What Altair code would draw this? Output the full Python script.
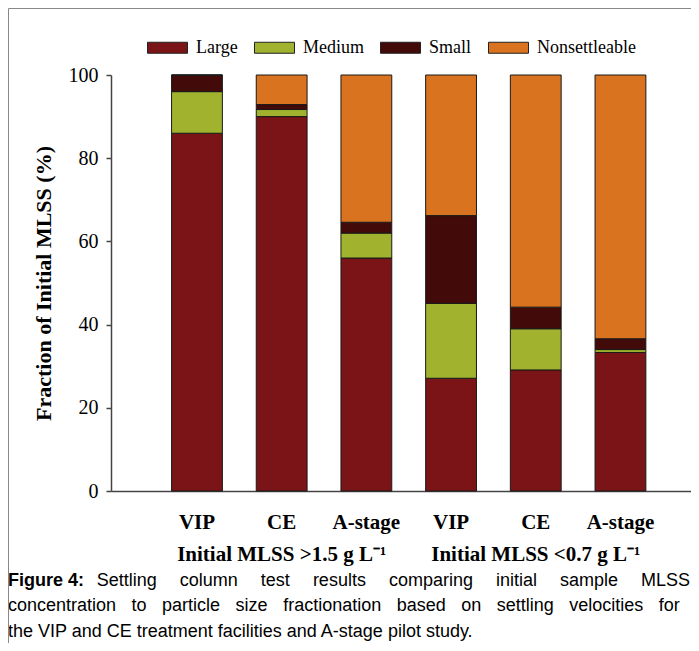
import altair as alt
import pandas as pd

# ---- data ----
sites = ["VIP", "CE", "A-stage", "VIP", "CE", "A-stage"]
conditions = ["high", "high", "high", "low", "low", "low"]
fractions = ["Large", "Medium", "Small", "Nonsettleable"]
large = [86.0, 90.0, 56.0, 27.1, 29.1, 33.3]
medium = [10.0, 1.7, 6.0, 18.0, 9.9, 0.7]
small = [4.0, 1.2, 2.6, 21.1, 5.2, 2.6]
nonsettleable = [0.0, 7.1, 35.4, 33.8, 55.8, 63.4]
fraction_colors = ["#7b1416", "#a0b22e", "#430a0a", "#d9731f"]
group_labels = ["Initial MLSS >1.5 g L\u207b\u00b9", "Initial MLSS <0.7 g L\u207b\u00b9"]
group_keys = ["CE|high", "CE|low"]
y_ticks = [0, 20, 40, 60, 80, 100]
caption_bold = "Figure 4:"
caption_lines = [
    "Settling column test results comparing initial sample MLSS",
    "concentration to particle size fractionation based on settling velocities for",
    "the VIP and CE treatment facilities and A-stage pilot study.",
]

keys = [f"{s}|{c}" for s, c in zip(sites, conditions)]
series = [large, medium, small, nonsettleable]
rows = []
for i, k in enumerate(keys):
    for j, f in enumerate(fractions):
        rows.append({"key": k, "fraction": f, "order": j, "value": series[j][i]})
df = pd.DataFrame(rows)

SERIF = "Liberation Serif"
SANS = "Liberation Sans"
AX = "#444444"

x_scale = alt.Scale(domain=keys, paddingInner=0.4, paddingOuter=0.624, align=0.573)


def x_axis():
    return alt.Axis(
        title=None, labelExpr="split(datum.label, '|')[0]", labelAngle=0,
        labelFont=SERIF, labelFontSize=21, labelFontWeight="bold",
        labelColor="black", labelPadding=20, ticks=False,
        domainColor=AX, domainWidth=1.5,
    )


bars = alt.Chart(df).mark_bar(stroke="#1a1a1a", strokeWidth=1).encode(
    x=alt.X("key:N", sort=keys, scale=x_scale, axis=x_axis()),
    y=alt.Y(
        "value:Q", stack="zero", scale=alt.Scale(domain=[0, 100], nice=False),
        axis=alt.Axis(
            values=y_ticks, grid=False, title="Fraction of Initial MLSS (%)",
            titleFont=SERIF, titleFontSize=22, titleFontWeight="bold",
            titleColor="black", titleAngle=270, titleX=-68, titleY=208,
            titleAlign="center", titleBaseline="middle",
            labelFont=SERIF, labelFontSize=20, labelColor="black", labelPadding=8,
            domainColor=AX, domainWidth=1.5, tickColor=AX, tickWidth=1.5, tickSize=5,
        ),
    ),
    color=alt.Color(
        "fraction:N",
        scale=alt.Scale(domain=fractions, range=fraction_colors),
        legend=alt.Legend(
            title=None, orient="none", legendX=36, legendY=-48, direction="horizontal",
            symbolType="M-1,-0.275H1V0.275H-1Z", symbolSize=1600,
            symbolStrokeColor="#222222", symbolStrokeWidth=1, symbolOpacity=1,
            labelFont=SERIF, labelFontSize=18, labelColor="black",
            labelOffset=8, columnPadding=14,
        ),
    ),
    order=alt.Order("order:Q", sort="ascending"),
)

gdf = pd.DataFrame({"key": group_keys, "label": group_labels})
group_text = alt.Chart(gdf).mark_text(
    font=SERIF, fontSize=21, fontWeight="bold", color="black",
    align="center", baseline="alphabetic",
).encode(
    x=alt.X("key:N", sort=keys, scale=x_scale, axis=x_axis()),
    y=alt.value(486),
    text="label:N",
)


def justify(line, gap):
    # widen the word gaps, as in the justified caption of the reference
    return line.replace(" ", gap)


def text_layer(txt, x, y, bold=False, align="left"):
    return alt.Chart(pd.DataFrame({"t": [txt]})).mark_text(
        font=SANS, fontSize=18, fontWeight="bold" if bold else "normal",
        color="black", align=align, baseline="alphabetic",
    ).encode(text="t:N", x=alt.value(x), y=alt.value(y))


cap0 = text_layer(caption_bold, -103, 510.5, bold=True)
cap1 = text_layer(justify(caption_lines[0], " \u2003"), 579, 510.5, align="right")
cap2 = text_layer(justify(caption_lines[1], " \u2002\u200a"), -103, 536)
cap3 = text_layer(caption_lines[2], -103, 561.5)

one = pd.DataFrame({"a": [0]})
frame_top = alt.Chart(one).mark_rule(color="#888888", strokeWidth=1).encode(
    x=alt.value(-102.5), x2=alt.value(580), y=alt.value(-66.5)
)
frame_left = alt.Chart(one).mark_rule(color="#888888", strokeWidth=1).encode(
    x=alt.value(-102.5), y=alt.value(-66.5), y2=alt.value(568)
)

chart = alt.layer(
    bars, group_text, cap0, cap1, cap2, cap3, frame_top, frame_left
).properties(
    width=580, height=416,
    padding={"left": 103, "top": 67, "right": 0, "bottom": 152},
    autosize=alt.AutoSizeParams(type="none"),
    background="white",
).configure_view(stroke=None)

chart.save("out.html", embed_options={"renderer": "svg", "actions": False})
